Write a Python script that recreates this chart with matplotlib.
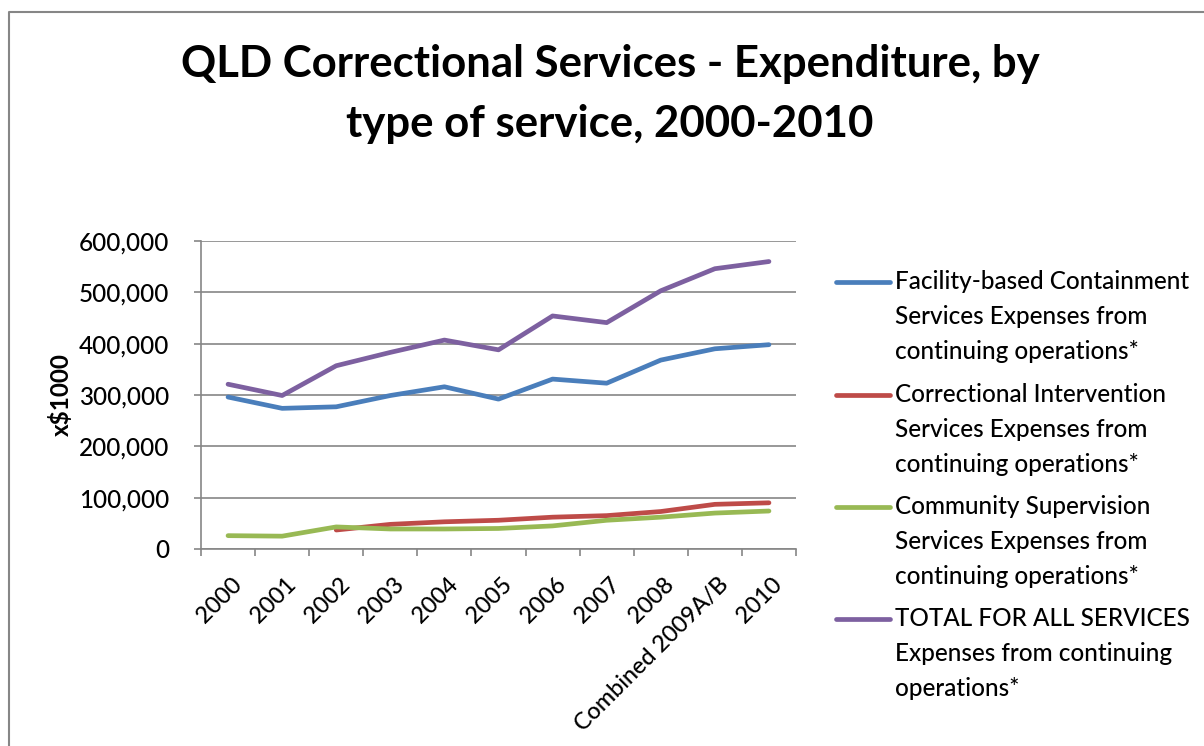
import numpy as np
import matplotlib
matplotlib.use("Agg")
import matplotlib.pyplot as plt
from matplotlib.lines import Line2D
from matplotlib.transforms import ScaledTranslation

plt.rcParams['font.family'] = ['Lato', 'DejaVu Sans']
plt.rcParams['font.weight'] = 'medium'

# data (x$1000)
years = ['2000', '2001', '2002', '2003', '2004', '2005', '2006', '2007',
         '2008', 'Combined 2009A/B', '2010']
facility = [296000, 274000, 277000, 299000, 316000, 292000, 331000, 323000,
            368000, 390000, 398000]
intervention = [np.nan, np.nan, 37000, 48000, 53000, 56000, 62000, 65000,
                73000, 87000, 90000]
community = [26000, 25000, 43000, 39000, 39000, 40000, 45000, 56000,
             62000, 70000, 74000]
total = [321000, 299000, 357000, 383000, 407000, 388000, 454000, 441000,
         503000, 546000, 560000]

labels = ['Facility-based Containment\nServices Expenses from\ncontinuing operations*',
          'Correctional Intervention\nServices Expenses from\ncontinuing operations*',
          'Community Supervision\nServices Expenses from\ncontinuing operations*',
          'TOTAL FOR ALL SERVICES\nExpenses from continuing\noperations*']
colors = ['#4A7EBB', '#BE4B48', '#98B954', '#7D60A0']
series = [facility, intervention, community, total]

W, H = 1204, 746
fig = plt.figure(figsize=(W / 100, H / 100), dpi=100)
ax = fig.add_axes([201 / W, 1 - 549 / H, (796 - 201) / W, (549 - 241) / H])

x = np.arange(len(years))
for vals, c in zip(series, colors):
    ax.plot(x, vals, color=c, lw=3.4, solid_capstyle='round',
            solid_joinstyle='round')

ax.set_xlim(-0.5, len(years) - 0.5)
ax.set_ylim(0, 600000)
ax.set_yticks(np.arange(0, 600001, 100000))
ax.set_yticklabels([f'{v:,}' for v in range(0, 600001, 100000)])
ax.yaxis.grid(True, color='#868686', lw=1.2)
ax.set_axisbelow(True)

ax.set_xticks(x)
ax.set_xticklabels(years, rotation=45, ha='right', rotation_mode='anchor')
ax.set_xticks(np.arange(-0.5, len(years), 1.0), minor=True)
ax.tick_params(axis='x', which='major', length=0, pad=18, labelsize=16.8,
               labelcolor='black')
ax.tick_params(axis='x', which='minor', length=5, width=1.2, color='#868686')
ax.tick_params(axis='y', length=5, width=1.2, color='#868686', pad=18,
               labelsize=17.5)
offset = ScaledTranslation(2 / 72, 0, fig.dpi_scale_trans)
for lab in ax.get_xticklabels():
    lab.set_transform(lab.get_transform() + offset)

for side in ['top', 'right']:
    ax.spines[side].set_visible(False)
for side in ['left', 'bottom']:
    ax.spines[side].set_color('#868686')
    ax.spines[side].set_linewidth(1.2)

ax.set_ylabel('x$1000', fontsize=17.5, fontweight='bold', labelpad=4)

# title
fig.text(610 / W, 1 - 77 / H, 'QLD Correctional Services - Expenditure, by',
         ha='center', va='baseline', fontsize=31.5, fontweight='bold')
fig.text(610 / W, 1 - 137 / H, 'type of service, 2000-2010',
         ha='center', va='baseline', fontsize=31.5, fontweight='bold')

# legend
leg_y = [282, 395, 507, 619]
for yy, lab, c in zip(leg_y, labels, colors):
    fig.add_artist(Line2D([836 / W, 890 / W], [1 - yy / H, 1 - yy / H],
                          color=c, lw=3.4, solid_capstyle='round'))
    fig.text(895 / W, 1 - (yy - 12) / H, lab, ha='left', va='top',
             fontsize=17.5, linespacing=1.62)

# chart-area border
fig.add_artist(Line2D([9 / W, 9 / W, 1.0], [0.0, 1 - 12 / H, 1 - 12 / H],
                      color='#868686', lw=1.5))

fig.savefig('out.png', dpi=100)
